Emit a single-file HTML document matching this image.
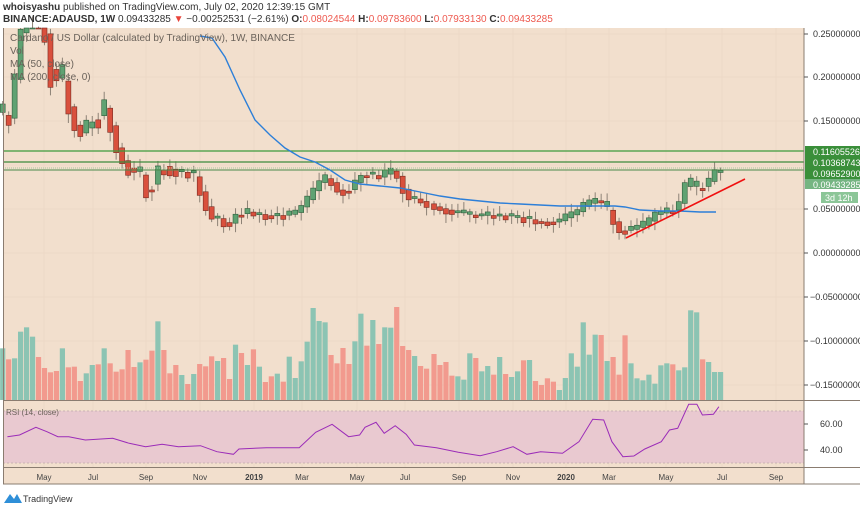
<!DOCTYPE html>
<html><head><meta charset="utf-8">
<style>
body{margin:0;background:#fff;width:860px;height:509px;overflow:hidden;font-family:"Liberation Sans",sans-serif}
svg{position:absolute;left:0;top:0}
</style></head><body>
<svg id="s" width="860" height="509" xmlns="http://www.w3.org/2000/svg" font-family="Liberation Sans, sans-serif">
<rect x="3" y="28" width="801" height="456" fill="#f2dfcd"/>
<g id="grid" stroke="#ecd9c7" stroke-width="1"></g>
<rect x="3" y="411" width="801" height="52" fill="#e9c9d0"/>
<line x1="3" y1="411" x2="804" y2="411" stroke="#c9b3b3" stroke-dasharray="2,2"/>
<line x1="3" y1="463" x2="804" y2="463" stroke="#c9b3b3" stroke-dasharray="2,2"/>
<g id="vol"></g>
<g id="candles"></g>
<line x1="3" y1="151" x2="804" y2="151" stroke="#3c9a3c" stroke-width="1.3"/>
<line x1="3" y1="162" x2="804" y2="162" stroke="#3c8a3c" stroke-width="1.3"/>
<line x1="3" y1="170" x2="804" y2="170" stroke="#4a8a4a" stroke-width="1"/>
<line x1="3" y1="168" x2="804" y2="168" stroke="#a6c7a0" stroke-dasharray="1,1"/>
<polyline fill="none" stroke="#2d7fd8" stroke-width="1.4" points="200,36 212,38 225,57 240,90 255,120 270,135 285,148 300,157 315,162 330,170 345,180 360,184 380,186 400,188 420,192 440,196 460,199 480,201 500,203 520,204 540,205 560,206 580,206 600,206 615,206 625,207 640,210 660,211 680,211 700,212 716,212"/>
<line x1="626" y1="238" x2="745" y2="179" stroke="#f01010" stroke-width="1.6"/>
<polyline id="rsi" fill="none" stroke="#9b2cb8" stroke-width="1"/>
<line x1="804" y1="28" x2="804" y2="484" stroke="#8a7c70"/>
<line x1="3" y1="400.5" x2="860" y2="400.5" stroke="#8a7c70"/>
<line x1="3" y1="467.5" x2="860" y2="467.5" stroke="#8a7c70"/>
<line x1="3.5" y1="28" x2="3.5" y2="484" stroke="#8a7c70"/>
<line x1="3" y1="484" x2="860" y2="484" stroke="#8a7c70"/>
<g font-size="9" fill="#333" text-anchor="start">
<text x="813" y="37">0.25000000</text>
<text x="813" y="80">0.20000000</text>
<text x="813" y="124">0.15000000</text>
<text x="813" y="212">0.05000000</text>
<text x="813" y="256">0.00000000</text>
<text x="810" y="300">−0.05000000</text>
<text x="810" y="344">−0.10000000</text>
<text x="810" y="388">−0.15000000</text>
<text x="820" y="427">60.00</text>
<text x="820" y="453">40.00</text>
</g>
<g stroke="#555">
<line x1="804" y1="34" x2="808" y2="34"/><line x1="804" y1="77" x2="808" y2="77"/><line x1="804" y1="121" x2="808" y2="121"/><line x1="804" y1="209" x2="808" y2="209"/><line x1="804" y1="253" x2="808" y2="253"/><line x1="804" y1="297" x2="808" y2="297"/><line x1="804" y1="341" x2="808" y2="341"/><line x1="804" y1="385" x2="808" y2="385"/><line x1="804" y1="424" x2="808" y2="424"/><line x1="804" y1="450" x2="808" y2="450"/>
</g>
<rect x="805" y="146" width="55" height="33" fill="#3a8f3a"/>
<rect x="805" y="179" width="55" height="10" fill="#75b582"/>
<rect x="821" y="192" width="37" height="11" fill="#8cc698"/>
<g font-size="9" fill="#fff">
<text x="813" y="155">0.11605526</text>
<text x="813" y="166">0.10368743</text>
<text x="813" y="177">0.09652900</text>
<text x="813" y="188">0.09433285</text>
<text x="825" y="201">3d 12h</text>
</g>
<g font-size="8" fill="#444" text-anchor="middle">
<text x="44" y="480">May</text><text x="93" y="480">Jul</text><text x="146" y="480">Sep</text><text x="200" y="480">Nov</text>
<text x="254" y="480" font-weight="bold">2019</text><text x="302" y="480">Mar</text><text x="357" y="480">May</text><text x="405" y="480">Jul</text>
<text x="459" y="480">Sep</text><text x="513" y="480">Nov</text><text x="566" y="480" font-weight="bold">2020</text><text x="609" y="480">Mar</text>
<text x="666" y="480">May</text><text x="722" y="480">Jul</text><text x="776" y="480">Sep</text>
</g>
<g font-size="10" fill="#6a625a">
<text x="10" y="41">Cardano / US Dollar (calculated by TradingView), 1W, BINANCE</text>
<text x="10" y="54">Vol</text>
<text x="10" y="67">MA (50, close)</text>
<text x="10" y="80">MA (200, close, 0)</text>
<text x="6" y="415" font-size="8">RSI (14, close)</text>
</g>
<text x="3" y="10" font-size="10" fill="#333"><tspan font-weight="bold">whoisyashu</tspan> published on TradingView.com, July 02, 2020 12:39:15 GMT</text>
<text x="3" y="22" font-size="10" fill="#333"><tspan font-weight="bold">BINANCE:ADAUSD, 1W</tspan> 0.09433285 <tspan fill="#e8443a">▼</tspan> −0.00252531 (−2.61%) <tspan font-weight="bold">O:</tspan><tspan fill="#ee5a50">0.08024544</tspan> <tspan font-weight="bold">H:</tspan><tspan fill="#ee5a50">0.09783600</tspan> <tspan font-weight="bold">L:</tspan><tspan fill="#ee5a50">0.07933130</tspan> <tspan font-weight="bold">C:</tspan><tspan fill="#ee5a50">0.09433285</tspan></text>
<path d="M4 503 L10 494 L14 499 L17 494 L22 503 Z" fill="#2f8fd8"/>
<text x="23" y="502" font-size="9" fill="#333">TradingView</text>
</svg>
<script>
var NS="http://www.w3.org/2000/svg",s=document.getElementById('s');
function el(p,t,a){var e=document.createElementNS(NS,t);for(var k in a)e.setAttribute(k,a[k]);p.appendChild(e);return e;}
var grid=document.getElementById('grid');
[44,93,146,200,254,302,357,405,459,513,566,609,666,722,776].forEach(function(x){el(grid,'line',{x1:x,y1:28,x2:x,y2:467});});
[34,77,121,165,209,253,297,341,385].forEach(function(y){el(grid,'line',{x1:3,y1:y,x2:804,y2:y});});
var v1="G145 R178 G175 G95 G82 G110 R171 R204 R217 R213 G145 R202 R200 R243 G220 G195 R193 G145 R190 R215 R208 R150 R201 G187 R179 R152 G64 R150 R220 R195 G225 R252 G222 R192 R199 R169 G183 R174 R237 G134 R159 G195 R148 G200 R246 R229 G221 R245 G170 G234 G184 G125 G24 G63 G67 R165 R190 R144 R192 G124 G41 R137 G60 R132 G82 G83 R21 R138 R150 G168 R198 R206".split(" ");
var v2="R162 R195 R186 R227 G229 G239 G160 R174 G214 G198 R224 G171 R222 G231 G214 R181 G180 R243 R255 R235 R245 G270 G234 G160 G200 G67 G164 G104 R105 G183 R171 R224 R106 G190 G235 G241 G224 G251 G196 G190 R193 G211 G202 G31 G37 R178 G186 G216 G216".split(" ");
var vol=document.getElementById('vol'),bars=[];
v1.forEach(function(b,i){bars.push([2.7+i*5.97,b]);});
v2.forEach(function(b,j){bars.push([434+j*5.97,b]);});
bars.forEach(function(b){var c=b[1][0],h=+b[1].slice(1);var top=300+h/3;
el(vol,'rect',{x:b[0]-2.6,y:top,width:5.2,height:400-top,fill:c=='G'?'#8cc4b3':'#f29a8e'});});
var kp=[[3,110],[8,120],[14,117],[20,55],[27,12],[33,6],[40,14],[47,30],[54,85],[62,55],[68,101],[75,113],[80,139],[86,128],[98,128],[104,105],[110,111],[116,139],[122,156],[128,165],[134,171],[140,163],[146,187],[152,193],[158,175],[164,165],[170,168],[182,173],[194,170],[200,185],[212,215],[224,220],[230,226],[240,215],[250,212],[270,216],[290,215],[300,212],[310,200],[320,185],[326,178],[332,180],[340,190],[350,192],[360,180],[370,172],[380,178],[396,170],[402,180],[408,195],[420,200],[440,208],[470,215],[510,216],[530,219],[540,222],[560,222],[570,217],[580,212],[588,205],[600,200],[606,202],[612,214],[621,231],[632,230],[650,224],[656,215],[680,209],[686,190],[692,178],[698,189],[710,185],[716,172],[722,172]];
function py(x){for(var i=1;i<kp.length;i++){if(x<=kp[i][0]){var a=kp[i-1],b=kp[i];return a[1]+(b[1]-a[1])*(x-a[0])/(b[0]-a[0]);}}return kp[kp.length-1][1];}
var cg=document.getElementById('candles');
var prev=py(0);
bars.forEach(function(b,i){var x=b[0],g=b[1][0]=='G';
var base=py(x+3);var amp=(x<200?6:3);
var c=base+(g?-1:1)*amp*(0.5+((i*37)%10)/10);
var o=prev; prev=base;
// enforce color direction
var t,bt;
if(g){bt=Math.max(o,c);t=Math.min(o,c);if(o<c){t=c-Math.abs(o-c);bt=c;}}
else{t=Math.min(o,c);bt=Math.max(o,c);}
if(bt-t<2){bt=t+2;}
var col=g?'#5fa272':'#d9503d',dk=g?'#2f5e3c':'#7a2a20';
var wt=Math.max(28,t-3-((i*7)%6)),wb=bt+3+((i*5)%7);
el(cg,'line',{x1:x,y1:wt,x2:x,y2:wb,stroke:'#8d8276','stroke-width':1});
var tt=Math.max(28,t);
el(cg,'rect',{x:x-2.5,y:tt,width:5,height:Math.max(1,bt-tt),fill:col,stroke:dk,'stroke-width':0.6});});
var rp=[[8,125],[30,120],[60,97],[80,110],[100,125],[120,125],[150,135],[200,130],[230,145],[260,155],[290,148],[320,155],[360,152],[390,170],[420,178],[430,162],[480,158],[540,158],[570,112],[600,88],[630,125],[650,120],[660,97],[680,82],[695,115],[715,92],[735,118],[750,150],[790,158],[830,172],[870,182],[900,170],[930,155],[955,178],[980,170],[1020,175],[1050,140],[1075,73],[1095,75],[1110,140],[1130,185],[1150,183],[1170,162],[1200,140],[1215,105],[1230,100],[1250,28],[1265,28],[1275,60],[1295,58],[1305,35]];
document.getElementById('rsi').setAttribute('points',rp.map(function(p){return (3+p[0]/1.823).toFixed(1)+','+(395+p[1]/3).toFixed(1);}).join(' '));
</script>
</body></html>
